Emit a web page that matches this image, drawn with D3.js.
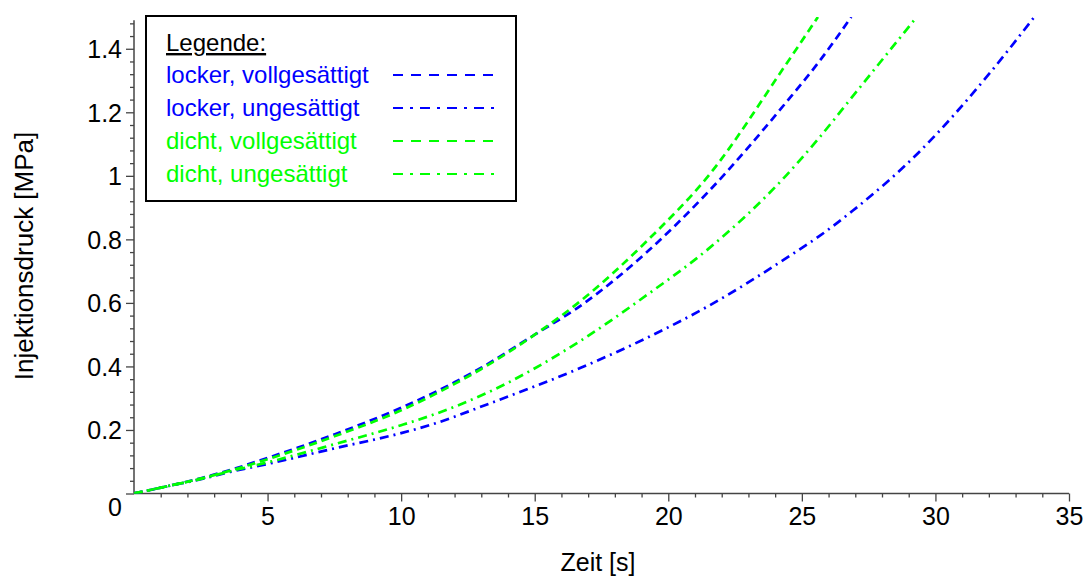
<!DOCTYPE html>
<html><head><meta charset="utf-8">
<script src="https://cdn.jsdelivr.net/npm/d3@7"></script>
<style>body{margin:0;background:#fff}svg{display:block}text{font-family:"Liberation Sans",Arial,sans-serif}</style>
</head><body><svg id="c" width="1084" height="576"></svg>
<script>
// ---- data ----
const seriesNames = ["locker, vollgesättigt","locker, ungesättigt","dicht, vollgesättigt","dicht, ungesättigt"];
const seriesColors = ["#0000ff","#0000ff","#00ff00","#00ff00"];
const lockerVollX = [0,1.25,2.5,3.6,5,7.5,10,12,13,15,16.7,19.2,21.5,24.4,25.65,26.85];
const lockerVollY = [0,0.023,0.048,0.074,0.112,0.186,0.27,0.35,0.396,0.50,0.59,0.76,0.95,1.23,1.36,1.5];
const lockerUngX = [0,1.25,2.5,3.6,5,7.5,10,11.1,13.3,16.7,19.2,21.5,24.4,25.65,26.9,29.45,32,33.7];
const lockerUngY = [0,0.023,0.045,0.068,0.093,0.142,0.19,0.216,0.283,0.395,0.49,0.59,0.74,0.81,0.89,1.08,1.32,1.5];
const dichtVollX = [0,1.25,2.5,3.6,5,7.5,10,12,13,15,16.7,19.2,21.5,24.4,25.6];
const dichtVollY = [0,0.023,0.047,0.072,0.108,0.180,0.262,0.345,0.392,0.50,0.605,0.795,1.0,1.35,1.5];
const dichtUngX = [0,1.25,2.5,3.6,5,7.5,10,11.1,13.3,16.7,19.2,21.5,24.4,25.65,26.9,29.3];
const dichtUngY = [0,0.023,0.046,0.070,0.098,0.155,0.215,0.245,0.32,0.48,0.625,0.77,1.0,1.12,1.25,1.5];
const xMajorTicks = [5,10,15,20,25,30,35];
const yMajorTicks = [0,0.2,0.4,0.6,0.8,1,1.2,1.4];
const yTickLabels = ["0","0.2","0.4","0.6","0.8","1","1.2","1.4"];
const xTitle = "Zeit [s]";
const yTitle = "Injektionsdruck [MPa]";
const legendTitle = "Legende:";

const svg = d3.select("#c");
const x = d3.scaleLinear().domain([0,35]).range([134,1069]);
const y = d3.scaleLinear().domain([0,1.5]).range([493.5,17]);
const axisColor = "#444";

svg.append("clipPath").attr("id","clip").append("rect")
  .attr("x",x(0)).attr("y",y(1.5)).attr("width",x(35)-x(0)).attr("height",y(0)-y(1.5));

const yMinor = d3.range(0,1.49,0.04).filter(v=>Math.abs(v*5-Math.round(v*5))>1e-6);
const xMinor = d3.range(1,35,1).filter(v=>v%5!==0);

const gy = svg.append("g").attr("transform",`translate(${x(0)},0)`);
gy.call(d3.axisLeft(y).tickValues(yMinor).tickSize(4).tickFormat("").tickSizeOuter(0));
gy.select(".domain").remove();
const gy2 = svg.append("g").attr("transform",`translate(${x(0)},0)`);
gy2.call(d3.axisLeft(y).tickValues(yMajorTicks).tickSize(8).tickPadding(4)
  .tickFormat((d,i)=>yTickLabels[i]).tickSizeOuter(0));
gy2.select(".domain").remove();
gy2.selectAll("text").style("font-size","25px").attr("fill","#000")
  .attr("dy",(d)=> d===0 ? "0.87em" : "0.35em");

const gx = svg.append("g").attr("transform",`translate(0,${y(0)})`);
gx.call(d3.axisBottom(x).tickValues(xMinor).tickSize(4).tickFormat("").tickSizeOuter(0));
gx.select(".domain").remove();
const gx2 = svg.append("g").attr("transform",`translate(0,${y(0)})`);
gx2.call(d3.axisBottom(x).tickValues(xMajorTicks).tickSize(8).tickPadding(6).tickSizeOuter(0));
gx2.select(".domain").remove();
gx2.selectAll("text").style("font-size","25px").attr("fill","#000");

svg.selectAll(".tick line").attr("stroke",axisColor).attr("stroke-width",1.3);

svg.append("line").attr("x1",x(0)).attr("x2",x(0)).attr("y1",y(0)).attr("y2",y(1.49))
  .attr("stroke",axisColor).attr("stroke-width",1.5);
svg.append("line").attr("x1",x(0)).attr("x2",x(35)).attr("y1",y(0)).attr("y2",y(0))
  .attr("stroke",axisColor).attr("stroke-width",1.5);

svg.append("text").attr("x",598).attr("y",571).attr("text-anchor","middle")
  .style("font-size","25px").text(xTitle);
svg.append("text").attr("transform","translate(33,256) rotate(-90)").attr("text-anchor","middle")
  .style("font-size","26px").text(yTitle);

const seriesX = [lockerVollX,lockerUngX,dichtVollX,dichtUngX];
const seriesY = [lockerVollY,lockerUngY,dichtVollY,dichtUngY];
const plotDash = ["8,5","9,5,2,5","8,5","9,5,2,5"];
const legendDash = ["10,8","10,7,3,7","10,8","10,7,3,7"];
const line = d3.line().x(d=>x(d[0])).y(d=>y(d[1])).curve(d3.curveMonotoneX);
const gl = svg.append("g").attr("clip-path","url(#clip)");
seriesX.forEach((xs,i)=>{
  const pts = xs.map((v,j)=>[v,seriesY[i][j]]);
  gl.append("path").datum(pts).attr("d",line).attr("fill","none")
    .attr("stroke",seriesColors[i]).attr("stroke-width",2.7)
    .attr("stroke-dasharray",plotDash[i]);
});

const lg = svg.append("g");
lg.append("rect").attr("x",146).attr("y",16).attr("width",370).attr("height",185)
  .attr("fill","#fff").attr("stroke","#000").attr("stroke-width",2);
lg.append("text").attr("x",166).attr("y",51).style("font-size","24px")
  .attr("text-decoration","underline").text(legendTitle);
const rowY = [75,108,141,174];
seriesNames.forEach((n,i)=>{
  lg.append("text").attr("x",166).attr("y",rowY[i]+8).style("font-size","24px")
    .attr("fill",seriesColors[i]).text(n);
  lg.append("line").attr("x1",393).attr("x2",497).attr("y1",rowY[i]).attr("y2",rowY[i])
    .attr("stroke",seriesColors[i]).attr("stroke-width",2.2).attr("stroke-dasharray",legendDash[i]);
});
</script></body></html>
